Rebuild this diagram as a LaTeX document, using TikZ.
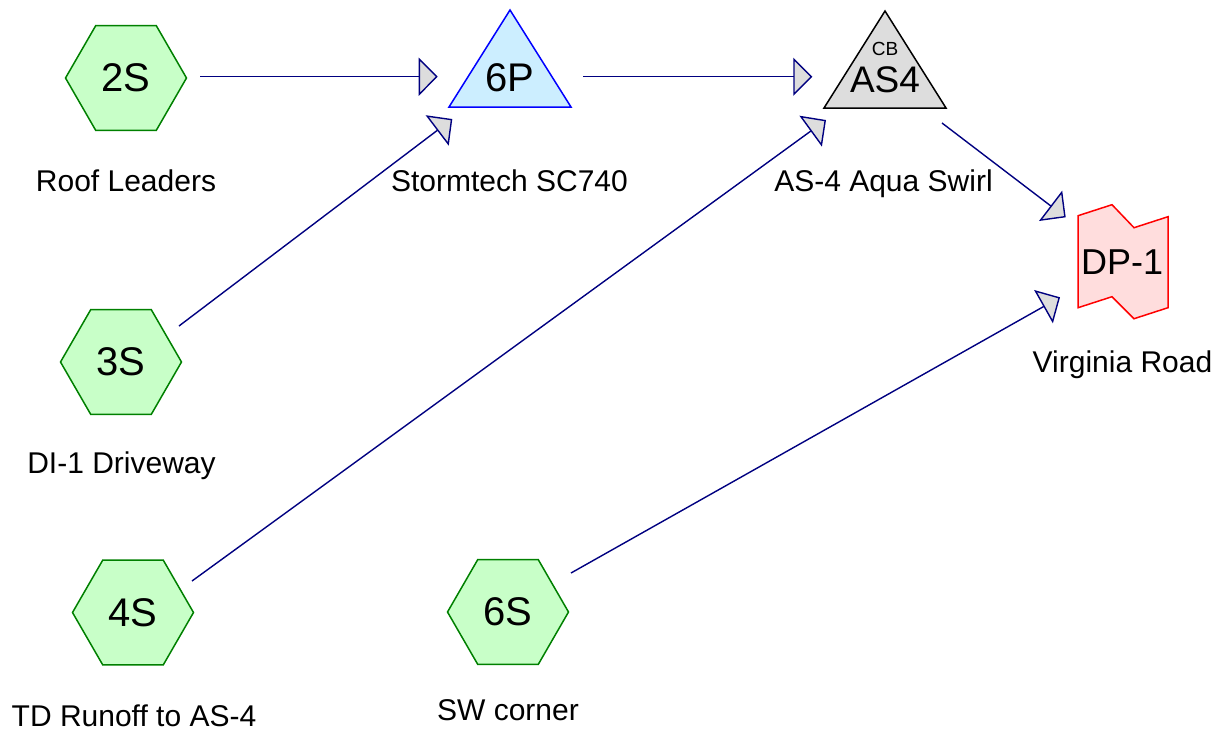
\documentclass[tikz,border=0pt]{standalone}
\usepackage{fontspec}
\setmainfont{Liberation Sans}
\usetikzlibrary{shapes.geometric,arrows.meta,backgrounds}

\definecolor{flowline}{HTML}{000080}
\definecolor{tipfill}{HTML}{DDDDDD}
\definecolor{subfill}{HTML}{C8FFC8}
\definecolor{subline}{HTML}{008000}
\definecolor{pondfill}{HTML}{CCEEFF}
\definecolor{pondline}{HTML}{0000FF}
\definecolor{reachfill}{HTML}{DDDDDD}
\definecolor{linkfill}{HTML}{FFDDDD}
\definecolor{linkline}{HTML}{FF0000}

\newcommand\idfont{\fontsize{40}{40}\selectfont}
\newcommand\reachidfont{\fontsize{37}{37}\selectfont}
\newcommand\linkidfont{\fontsize{36}{36}\selectfont}
\newcommand\tagfont{\fontsize{19}{19}\selectfont}
\newcommand\lblfont{\fontsize{30}{30}\selectfont}

\begin{document}
\begin{tikzpicture}[x=1pt,y=-1pt,
  subcat/.style={regular polygon, regular polygon sides=6, minimum size=121pt,
    inner sep=0pt, draw=subline, fill=subfill, line width=1.5pt, font=\idfont},
  nodeid/.style={font=\idfont, inner sep=0pt},
  caption/.style={font=\lblfont, anchor=base, inner sep=0pt},
  pondshape/.style={draw=pondline, fill=pondfill, line width=1.5pt, line join=miter},
  reachshape/.style={draw=black, fill=reachfill, line width=1.5pt, line join=miter},
  linkshape/.style={draw=linkline, fill=linkfill, line width=1.5pt, line join=miter},
  flow/.style={draw=flowline, line width=1.4pt,
    -{Triangle[length=19pt,width=38pt,fill=tipfill]}}]
\useasboundingbox (0,0) rectangle (1222,732);

% subcatchments
\node[subcat] (2S) at (126,78) {2S};
\node[subcat] (3S) at (121,362) {3S};
\node[subcat] (4S) at (133,612.5) {4S};
\node[subcat] (6S) at (508,612) {6S};

% pond, reach and link identifiers
\node[nodeid] (6P) at (510,77.5) {6P};
\node[font=\reachidfont, inner sep=0pt] (AS4) at (885,80) {AS4};
\node[font=\tagfont, inner sep=0pt] (CB) at (885,49) {CB};
\node[font=\linkidfont, inner sep=0pt] (DP1) at (1122,261.7) {DP-1};

\begin{scope}[on background layer]
  \draw[pondshape, shift={(6P.center)}]
    (0,-67.5) -- (61,29.5) -- (-61,29.5) -- cycle;
  \draw[reachshape, shift={(AS4.center)}]
    (0,-69) -- (61,28) -- (-61,28) -- cycle;
  \draw[linkshape, shift={(DP1.center)}]
    (-44,-46) -- (-10,-57) -- (12,-34) -- (46,-45) -- (46,46)
    -- (12,57) -- (-10,35) -- (-44,46) -- cycle;
\end{scope}

% captions
\node[caption] (c2S) at (126,191.7) {Roof Leaders};
\node[caption] (c6P) at (509.5,191.7) {Stormtech SC740};
\node[caption] (cAS4) at (883.5,191.7) {AS-4 Aqua Swirl};
\node[caption] (cDP1) at (1122.5,372.7) {Virginia Road};
\node[caption] (c3S) at (121.5,473.7) {DI-1 Driveway};
\node[caption] (c4S) at (134,726.7) {TD Runoff to AS-4};
\node[caption] (c6S) at (508,720.7) {SW corner};

% flow connections
\draw[flow] ([shift={(74,-1.3)}]2S.center) -- ([shift={(-72.3,-0.8)}]6P.center);
\draw[flow] ([shift={(58,-36)}]3S.center) -- ([shift={(-57.7,41.5)}]6P.center);
\draw[flow] ([shift={(73,-0.8)}]6P.center) -- ([shift={(-72.7,-3.3)}]AS4.center);
\draw[flow] ([shift={(59,-31.5)}]4S.center) -- ([shift={(-59,40)}]AS4.center);
\draw[flow] ([shift={(57,43)}]AS4.center) -- ([shift={(-56.3,-44.4)}]DP1.center);
\draw[flow] ([shift={(63,-39)}]6S.center) -- ([shift={(-62,35.6)}]DP1.center);
\end{tikzpicture}
\end{document}
